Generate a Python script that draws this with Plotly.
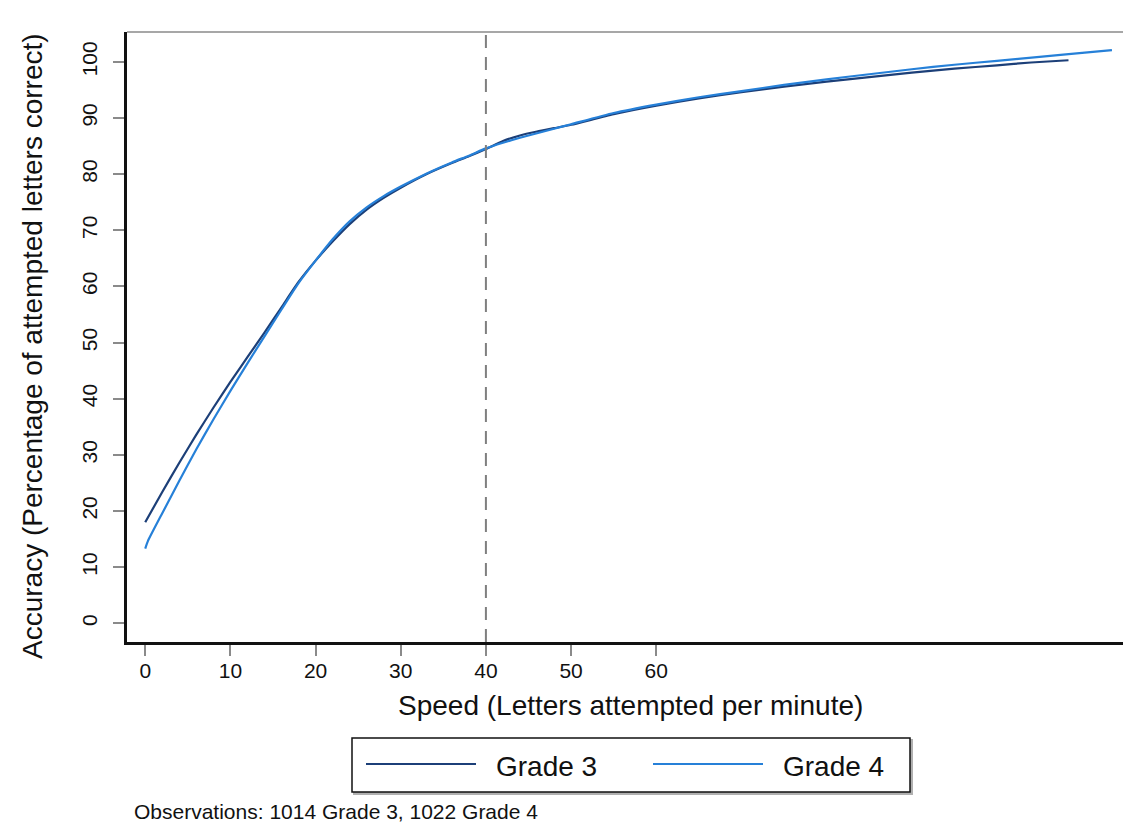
import plotly.graph_objects as go

# ---- data ----
grade3_speed = [0, 2, 4, 6, 8, 10, 12, 14, 16, 18, 20, 22, 24, 26, 28, 30, 33, 36, 38, 40,
                42, 44, 46, 48, 50, 55, 60, 65, 70, 75, 80, 85, 90, 95, 100, 104, 108.4]
grade3_acc = [18.0, 23.4, 28.6, 33.6, 38.4, 43.0, 47.4, 51.8, 56.3, 60.8, 64.6, 68.0, 71.1, 73.7,
              75.8, 77.6, 80.0, 82.0, 83.2, 84.5, 85.9, 86.9, 87.6, 88.2, 88.8, 90.7, 92.2, 93.5,
              94.6, 95.6, 96.5, 97.3, 98.1, 98.8, 99.4, 99.9, 100.3]

grade4_speed = [0, 0.3, 2, 4, 6, 8, 10, 12, 14, 16, 18, 20, 22, 24, 26, 28, 30, 33, 36, 38, 40,
                42, 44, 46, 48, 50, 55, 60, 65, 70, 75, 80, 85, 90, 95, 100, 105, 110, 113.5]
grade4_acc = [13.3, 14.6, 19.6, 25.4, 31.0, 36.3, 41.4, 46.3, 51.1, 55.9, 60.6, 64.6, 68.4, 71.6,
              74.1, 76.1, 77.8, 80.1, 82.1, 83.3, 84.6, 85.6, 86.5, 87.3, 88.1, 88.9, 90.9, 92.4,
              93.7, 94.8, 95.9, 96.9, 97.8, 98.7, 99.5, 100.2, 100.9, 101.6, 102.1]

x_ticks = [0, 10, 20, 30, 40, 50, 60]
y_ticks = [0, 10, 20, 30, 40, 50, 60, 70, 80, 90, 100]
cutoff_speed = 40

series_names = ["Grade 3", "Grade 4"]
x_title = "Speed (Letters attempted per minute)"
y_title = "Accuracy (Percentage of attempted letters correct)"
note_text = "Observations: 1014 Grade 3, 1022 Grade 4"

# ---- styling ----
C3 = "#1c3f78"
C4 = "#2680d8"
FONT = "Liberation Sans, Arial, Helvetica, sans-serif"
W, H = 1123, 828
L, R, T, B = 127, 0, 32, 186
PW = W - L - R
PH = H - T - B


def px(xp):
    return (xp - L) / PW


def py(yp):
    return (H - B - yp) / PH


fig = go.Figure()
fig.add_trace(go.Scatter(x=grade3_speed, y=grade3_acc, mode="lines", name=series_names[0],
                         line=dict(color=C3, width=2.2, shape="spline", smoothing=0.6)))
fig.add_trace(go.Scatter(x=grade4_speed, y=grade4_acc, mode="lines", name=series_names[1],
                         line=dict(color=C4, width=2.2, shape="spline", smoothing=0.6)))

shapes = []
# vertical dashed reference line at speed 40
shapes.append(dict(type="line", xref="x", yref="paper", x0=cutoff_speed, x1=cutoff_speed, y0=0, y1=1,
                   line=dict(color="#7f7f7f", width=2, dash="13px,9px")))
# top frame line
shapes.append(dict(type="line", xref="paper", yref="paper", x0=0, x1=1, y0=1, y1=1,
                   line=dict(color="#8a8a8a", width=1.5)))
# legend box with slight shadow
shapes.append(dict(type="rect", xref="paper", yref="paper", x0=px(354), x1=px(912), y0=py(794), y1=py(740),
                   line=dict(color="#b0b0b0", width=2), fillcolor="#b0b0b0"))
shapes.append(dict(type="rect", xref="paper", yref="paper", x0=px(352), x1=px(910), y0=py(792), y1=py(738),
                   line=dict(color="#111111", width=1.5), fillcolor="white"))
shapes.append(dict(type="line", xref="paper", yref="paper", x0=px(366), x1=px(476), y0=py(764), y1=py(764),
                   line=dict(color=C3, width=2.2)))
shapes.append(dict(type="line", xref="paper", yref="paper", x0=px(653), x1=px(763), y0=py(764), y1=py(764),
                   line=dict(color=C4, width=2.2)))

annotations = [
    dict(text=x_title, xref="paper", yref="paper", x=px(630), y=py(705), showarrow=False,
         font=dict(size=28, color="#111111", family=FONT), xanchor="center", yanchor="middle"),
    dict(text=y_title, xref="paper", yref="paper", x=px(32), y=py(346), showarrow=False, textangle=-90,
         font=dict(size=28, color="#111111", family=FONT), xanchor="center", yanchor="middle"),
    dict(text=series_names[0], xref="paper", yref="paper", x=px(494), y=py(766), showarrow=False,
         font=dict(size=28, color="#111111", family=FONT), xanchor="left", yanchor="middle"),
    dict(text=series_names[1], xref="paper", yref="paper", x=px(781), y=py(766), showarrow=False,
         font=dict(size=28, color="#111111", family=FONT), xanchor="left", yanchor="middle"),
    dict(text=note_text, xref="paper", yref="paper", x=px(132), y=py(811), showarrow=False,
         font=dict(size=21, color="#111111", family=FONT), xanchor="left", yanchor="middle"),
]

fig.update_layout(
    width=W, height=H,
    margin=dict(l=L, r=R, t=T, b=B),
    paper_bgcolor="white", plot_bgcolor="white",
    showlegend=False,
    font=dict(family=FONT, color="#111111"),
    shapes=shapes,
    annotations=annotations,
    xaxis=dict(range=[-2.14, 114.8], tickvals=x_ticks, ticktext=[str(v) for v in x_ticks],
               showgrid=False, zeroline=False, showline=True, linecolor="#111111", linewidth=2.5,
               ticks="outside", ticklen=11, tickwidth=1.5, tickcolor="#8a8a8a",
               tickfont=dict(size=21, family=FONT, color="#111111"), ticklabelstandoff=-3),
    yaxis=dict(range=[-3.33, 105.33], tickvals=y_ticks, ticktext=[str(v) for v in y_ticks],
               showgrid=False, zeroline=False, showline=True, linecolor="#111111", linewidth=2.5,
               ticks="outside", ticklen=11, tickwidth=1.5, tickcolor="#8a8a8a", tickangle=-90,
               tickfont=dict(size=21, family=FONT, color="#111111"), ticklabelstandoff=8),
)

fig.write_html("out.html")
